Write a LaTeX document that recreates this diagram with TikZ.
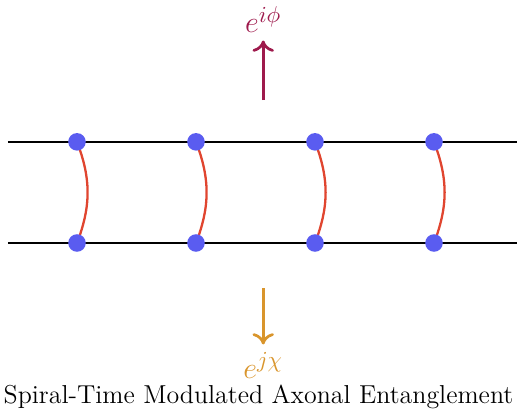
\documentclass[tikz,border=0pt]{standalone}
\usepackage{bm}
\usetikzlibrary{positioning,arrows.meta}
\definecolor{dotblue}{HTML}{5A5CF0}
\definecolor{rungred}{HTML}{E0452F}
\definecolor{phasepurple}{HTML}{9E1A4C}
\definecolor{chiorange}{HTML}{D9952C}
\tikzset{axon/.style={black,line width=0.9pt}}
\tikzset{spine/.style={circle,fill=dotblue,inner sep=0pt,minimum size=2.95mm}}
\tikzset{rung/.style={rungred,line width=1.1pt}}
\tikzset{phaseA/.style={phasepurple,-{To[length=1.9mm,width=3.6mm]},line width=1.3pt,shorten >=0.12cm}}
\tikzset{phaseB/.style={chiorange,-{To[length=1.9mm,width=3.6mm]},line width=1.3pt,shorten >=0.12cm}}

\begin{document}
\begin{tikzpicture}

\pgfmathsetmacro{\xmin}{-1.294}
\pgfmathsetmacro{\xmax}{7.395}
\pgfmathsetmacro{\ymin}{-2.840}
\pgfmathsetmacro{\ymax}{4.084}

\pgfmathsetmacro{\H}{1.7}
\pgfmathsetmacro{\Xa}{3.13}

\useasboundingbox (\xmin,\ymin) rectangle (\xmax,\ymax);

% 2本の軸索
\coordinate (tl) at (-1.16,\H);
\coordinate (tr) at (\xmax,\H);
\coordinate (bl) at (-1.16,0);
\coordinate (br) at (\xmax,0);
\draw[axon] (tl) -- (tr);
\draw[axon] (bl) -- (br);

% 結合点の位置
\foreach \i in {1,...,4}{
  \coordinate (t\i) at ({2*(\i-1)},\H);
  \coordinate (b\i) at ({2*(\i-1)},0);
}

% 横木（赤）
\foreach \i in {1,...,4}{
  \draw[rung] (t\i) to[bend left=21] (b\i);
}

% 結合点
\foreach \i in {1,...,4}{
  \node[spine] (st\i) at (t\i) {};
  \node[spine] (sb\i) at (b\i) {};
}

% 上の位相
\node[phasepurple,anchor=base,inner sep=0pt] (phi) at (\Xa,3.53) {\fontsize{15}{18}\selectfont$e^{i\phi}$};
\coordinate (phitail) at (\Xa,2.4);
\draw[phaseA] (phitail) -- (phi.south);

% 下の位相
\node[chiorange,anchor=base,inner sep=0pt] (chi) at (\Xa,-2.27) {\fontsize{15}{18}\selectfont$e^{j\chi}$};
\coordinate (chitail) at (\Xa,-0.76);
\draw[phaseB] (chitail) -- (chi.north);

% タイトル
\node[anchor=base] (title) at (3.05,-2.69) {\fontsize{12.4}{15}\selectfont Spiral-Time Modulated Axonal Entanglement};

\end{tikzpicture}
\end{document}
